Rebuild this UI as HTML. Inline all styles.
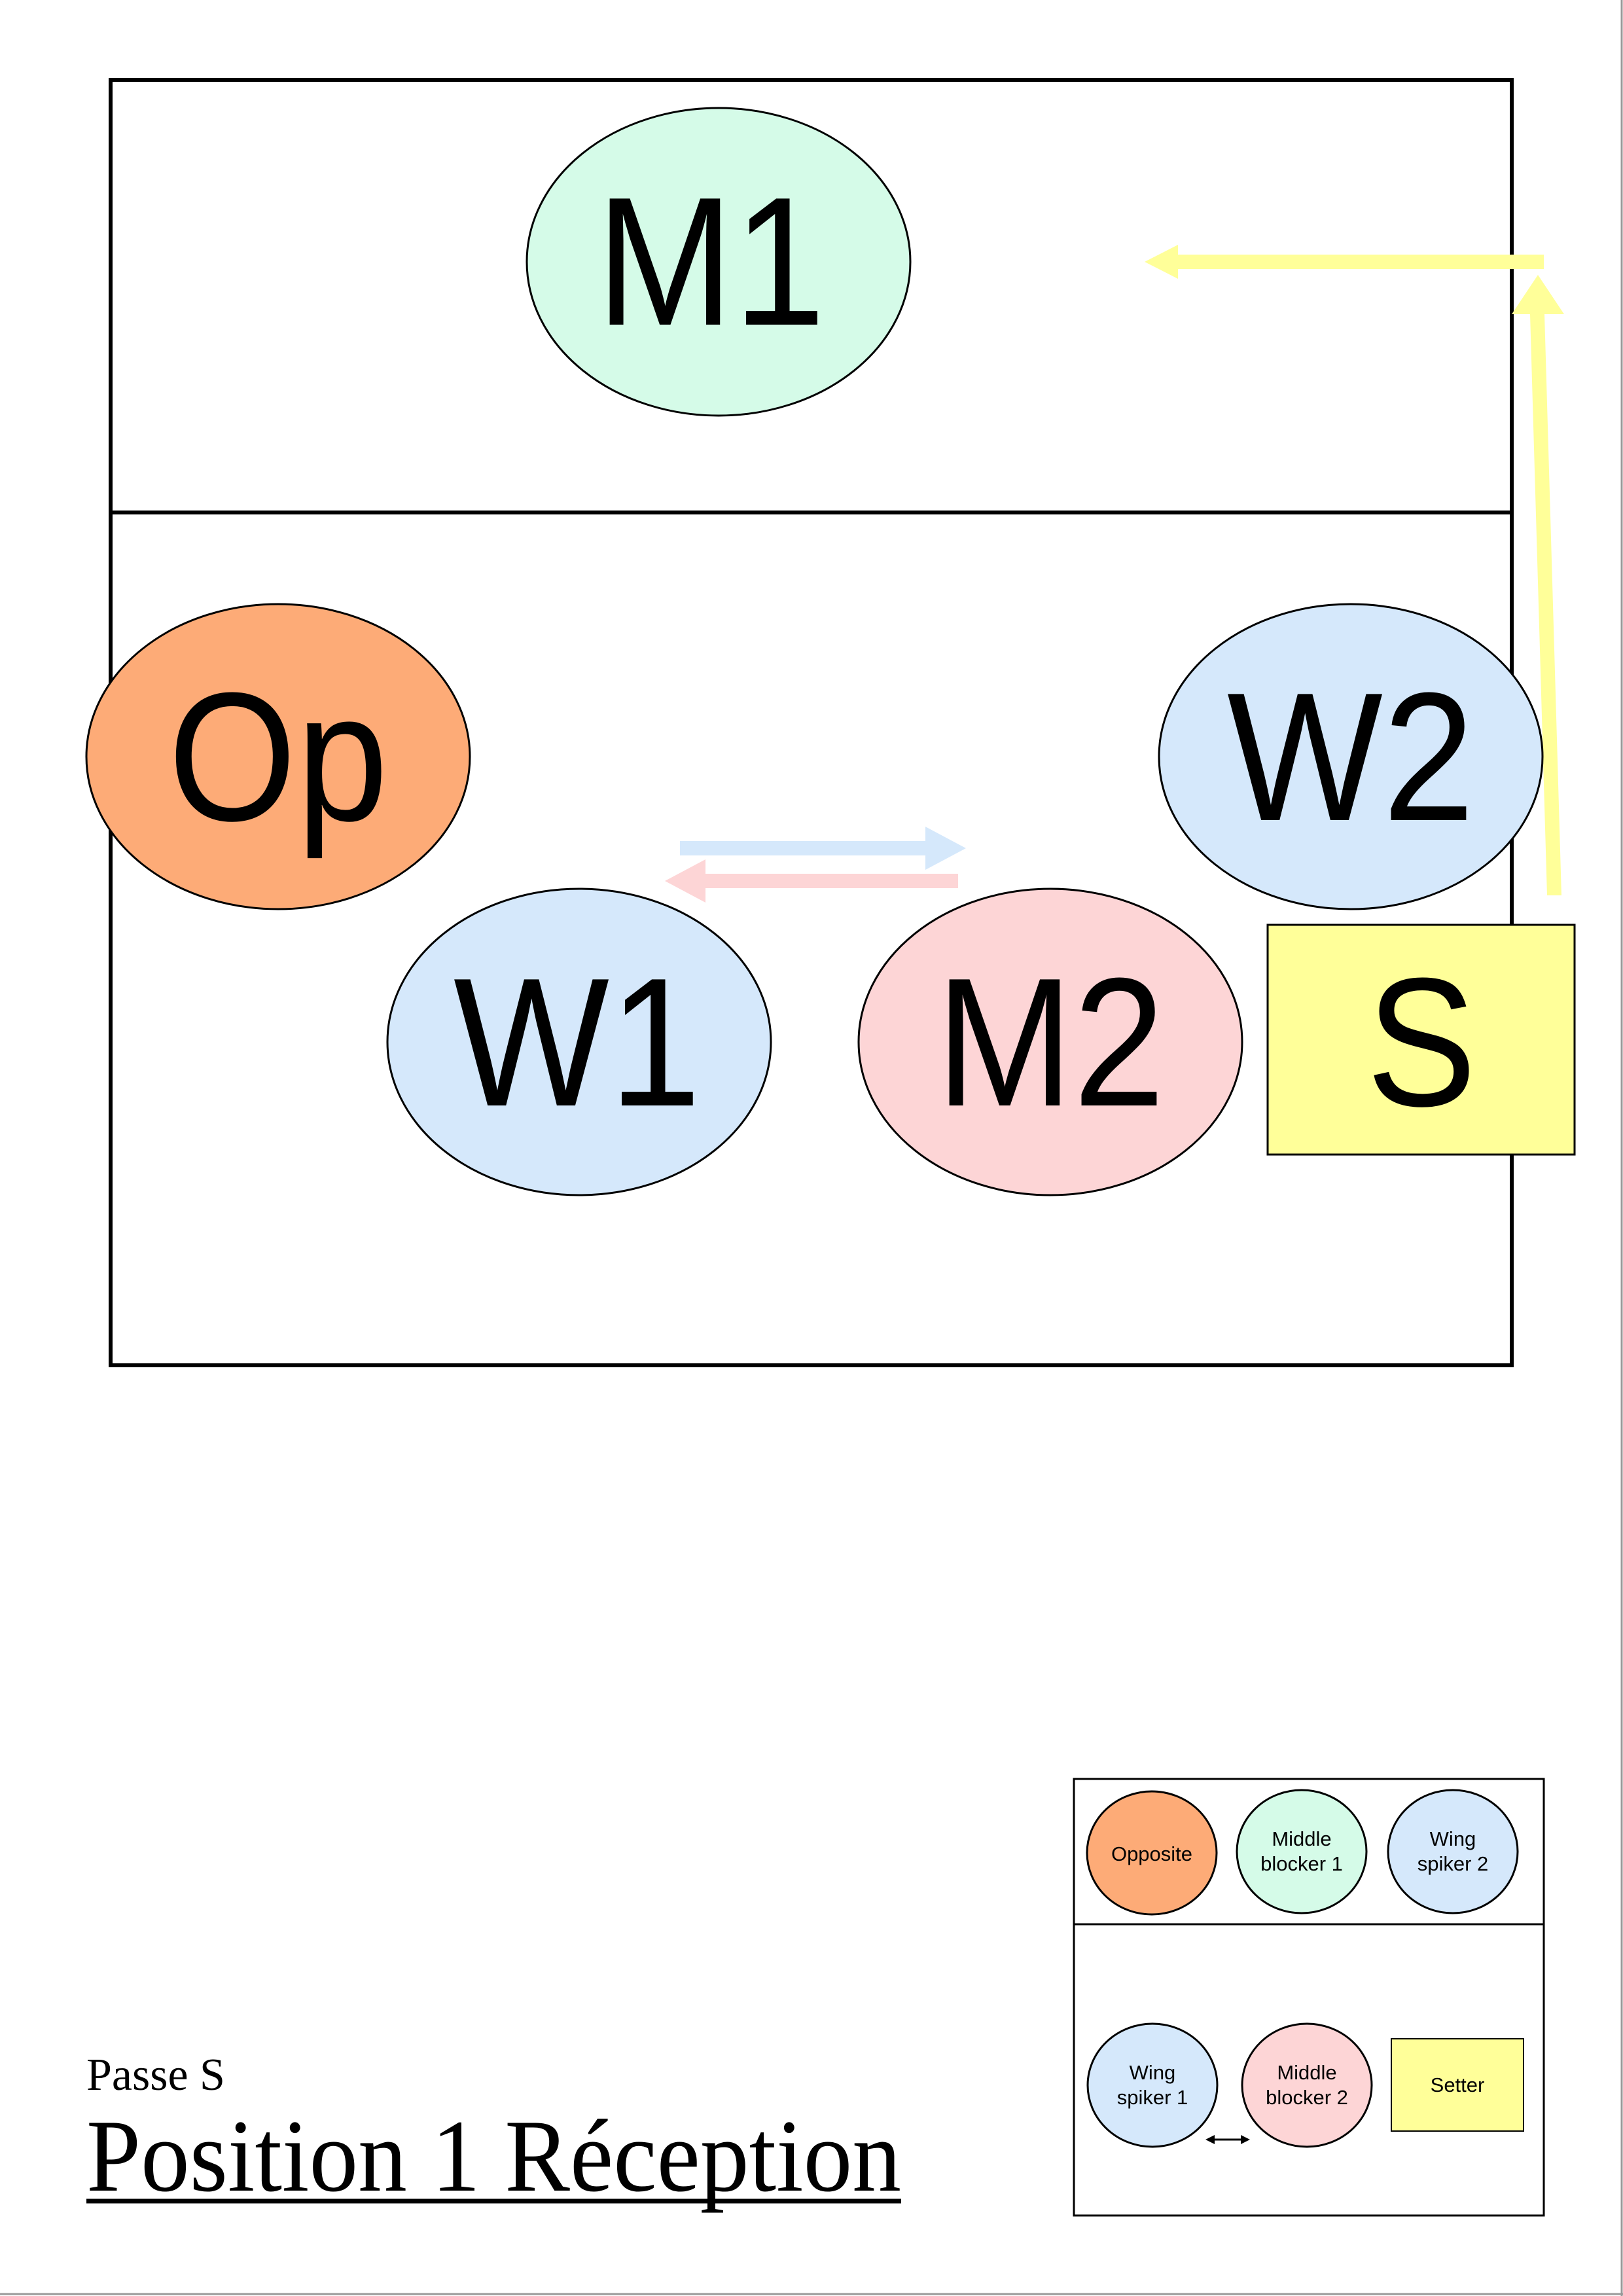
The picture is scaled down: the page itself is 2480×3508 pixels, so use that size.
<!DOCTYPE html>
<html><head><meta charset="utf-8"><style>html,body{margin:0;padding:0;background:#fff}svg{display:block}</style></head>
<body>
<svg width="2480" height="3508" viewBox="0 0 2480 3508" xmlns="http://www.w3.org/2000/svg" font-family="Liberation Sans, Arial, sans-serif">
<rect x="0" y="0" width="2480" height="3508" fill="#fff"/>
<line x1="2478" y1="0" x2="2478" y2="3508" stroke="#999" stroke-width="3"/>
<line x1="0" y1="3505" x2="2480" y2="3505" stroke="#999" stroke-width="3"/>
<!-- court -->
<rect x="169" y="122" width="2141" height="1964" fill="none" stroke="#000" stroke-width="6"/>
<line x1="169" y1="783" x2="2310" y2="783" stroke="#000" stroke-width="6"/>
<!-- yellow arrows -->
<polygon points="2359,389 1800,389 1800,374 1749,400 1800,426 1800,411 2359,411" fill="#ffff99"/>
<polygon points="2364,1368 2386,1368 2360,480 2390,480 2350,420 2310,480 2338,480" fill="#ffff99"/>
<!-- blue/pink arrows -->
<polygon points="1039,1285 1414,1285 1414,1263 1476,1296 1414,1329 1414,1307 1039,1307" fill="#d5e8fb"/>
<polygon points="1464,1335 1078,1335 1078,1313 1016,1346 1078,1379 1078,1357 1464,1357" fill="#fdd5d6"/>
<!-- players -->
<g stroke="#000" stroke-width="3">
<ellipse cx="1098" cy="400" rx="293" ry="235" fill="#d5fbe8"/>
<ellipse cx="425" cy="1156" rx="293" ry="233" fill="#fdab77"/>
<ellipse cx="2064" cy="1156" rx="293" ry="233" fill="#d5e8fb"/>
<ellipse cx="885" cy="1592" rx="293" ry="234" fill="#d5e8fb"/>
<ellipse cx="1605" cy="1592" rx="293" ry="234" fill="#fdd5d6"/>
<rect x="1937" y="1413" width="469" height="351" fill="#ffff99"/>
</g>
<g font-size="280" text-anchor="middle">
<text transform="translate(1086,496) scale(0.9,1)">M1</text>
<text transform="translate(425,1253) scale(0.9,1)">Op</text>
<text transform="translate(2064,1253) scale(0.9,1)">W2</text>
<text transform="translate(882,1689) scale(0.9,1)">W1</text>
<text transform="translate(1605,1689) scale(0.9,1)">M2</text>
<text transform="translate(2172,1689) scale(0.9,1)">S</text>
</g>
<!-- legend -->
<rect x="1641" y="2718" width="718" height="667" fill="none" stroke="#000" stroke-width="3"/>
<line x1="1641" y1="2940" x2="2359" y2="2940" stroke="#000" stroke-width="3"/>
<g stroke="#000" stroke-width="3" font-size="31" text-anchor="middle">
<ellipse cx="1760" cy="2831" rx="99" ry="94" fill="#fdab77"/>
<text x="1760" y="2843" stroke="none">Opposite</text>
<ellipse cx="1989" cy="2829" rx="99" ry="94" fill="#d5fbe8"/>
<text x="1989" y="2820" stroke="none">Middle</text>
<text x="1989" y="2858" stroke="none">blocker 1</text>
<ellipse cx="2220" cy="2829" rx="99" ry="94" fill="#d5e8fb"/>
<text x="2220" y="2820" stroke="none">Wing</text>
<text x="2220" y="2858" stroke="none">spiker 2</text>
<ellipse cx="1761" cy="3186" rx="99" ry="94" fill="#d5e8fb"/>
<text x="1761" y="3177" stroke="none">Wing</text>
<text x="1761" y="3215" stroke="none">spiker 1</text>
<ellipse cx="1997" cy="3186" rx="99" ry="94" fill="#fdd5d6"/>
<text x="1997" y="3177" stroke="none">Middle</text>
<text x="1997" y="3215" stroke="none">blocker 2</text>
<rect x="2126" y="3115" width="202" height="141" fill="#ffff99" stroke-width="2"/>
<text x="2227" y="3196" stroke="none">Setter</text>
</g>
<line x1="1848" y1="3269" x2="1904" y2="3269" stroke="#000" stroke-width="3"/>
<polygon points="1842,3269 1856,3262 1856,3276" fill="#000"/>
<polygon points="1910,3269 1896,3262 1896,3276" fill="#000"/>
<!-- titles -->
<text x="132" y="3193" font-family="Liberation Serif, serif" font-size="70">Passe S</text>
<text x="132" y="3347" font-family="Liberation Serif, serif" font-size="158" textLength="1245" lengthAdjust="spacingAndGlyphs">Position 1 Réception</text>
<line x1="132" y1="3363" x2="1377" y2="3363" stroke="#000" stroke-width="7"/>
</svg>
</body></html>
